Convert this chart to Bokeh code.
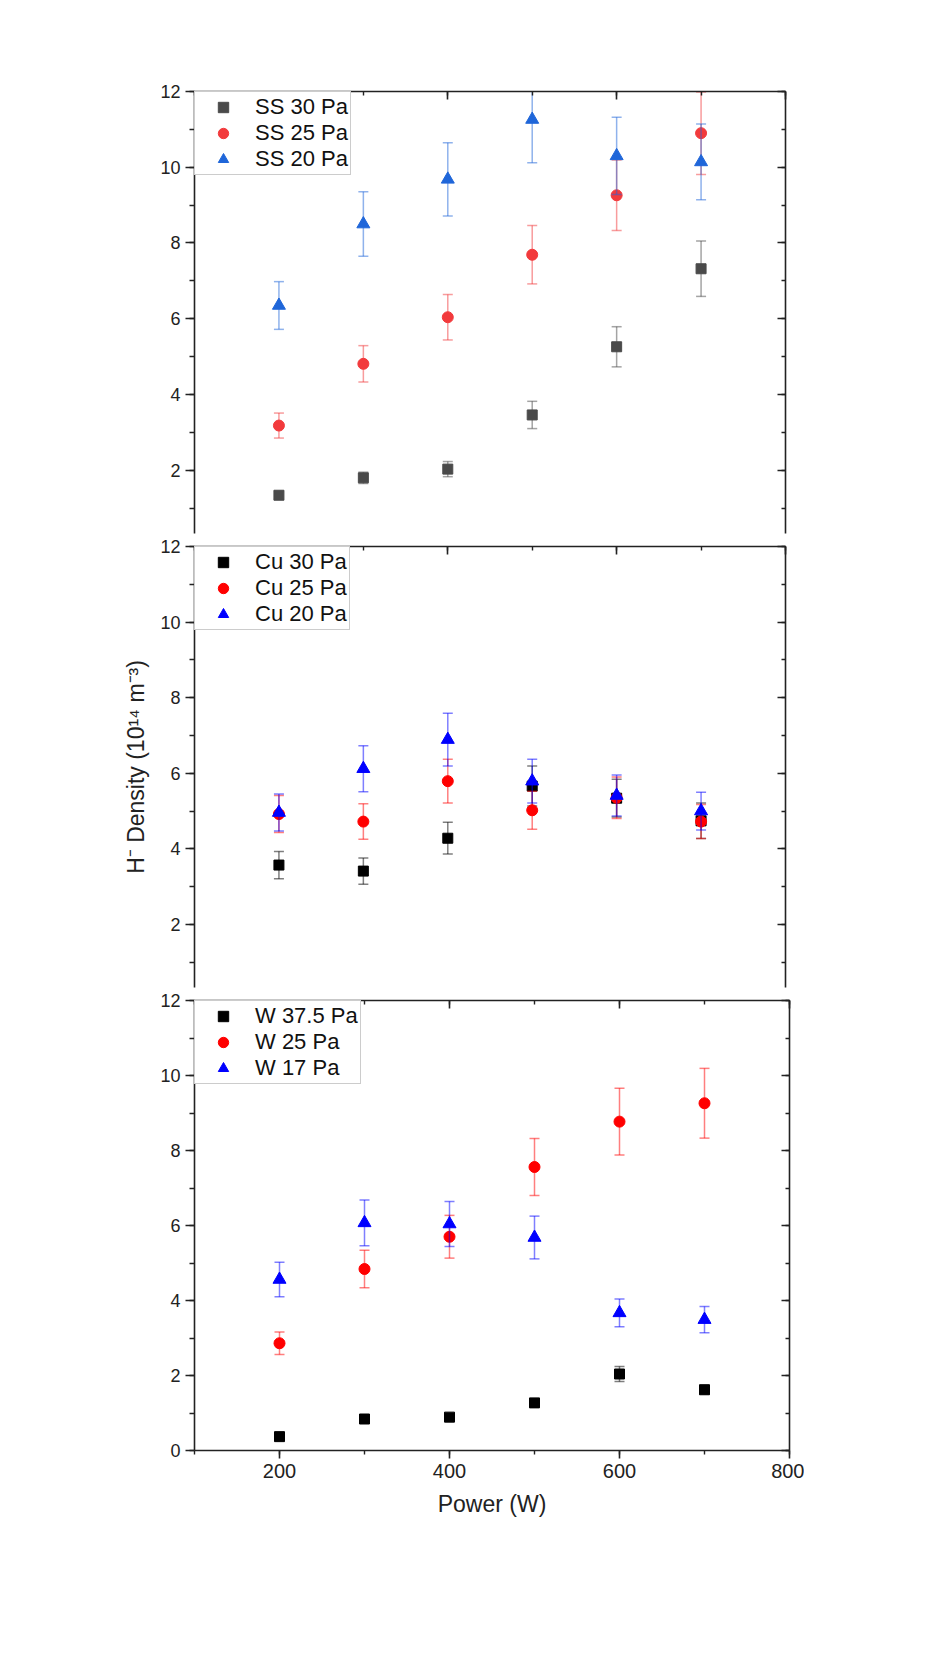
from bokeh.plotting import figure
from bokeh.models import Range1d, LinearAxis, SingleIntervalTicker, ColumnDataSource, Legend, LegendItem
from bokeh.layouts import column
from bokeh.embed import file_html
from bokeh.resources import INLINE

# ---------------- data ----------------
power = [200, 300, 400, 500, 600, 700]

ss_labels = ["SS 30 Pa", "SS 25 Pa", "SS 20 Pa"]
ss30 = [1.34, 1.80, 2.03, 3.46, 5.26, 7.32]
ss30_err = [0.10, 0.15, 0.20, 0.36, 0.53, 0.73]
ss25 = [3.18, 4.81, 6.04, 7.69, 9.26, 10.90]
ss25_err = [0.33, 0.48, 0.60, 0.77, 0.93, 1.09]
ss20 = [6.35, 8.50, 9.68, 11.26, 10.30, 10.14]
ss20_err = [0.63, 0.85, 0.97, 1.14, 1.02, 1.00]

cu_labels = ["Cu 30 Pa", "Cu 25 Pa", "Cu 20 Pa"]
cu30 = [3.57, 3.41, 4.28, 5.66, 5.34, 4.74]
cu30_err = [0.36, 0.35, 0.42, 0.53, 0.50, 0.47]
cu25 = [4.92, 4.72, 5.79, 5.02, 5.35, 4.72]
cu25_err = [0.49, 0.47, 0.58, 0.50, 0.55, 0.45]
cu20 = [4.96, 6.12, 6.89, 5.79, 5.41, 5.00]
cu20_err = [0.49, 0.61, 0.70, 0.58, 0.54, 0.50]

w_labels = ["W 37.5 Pa", "W 25 Pa", "W 17 Pa"]
w375 = [0.37, 0.84, 0.89, 1.27, 2.04, 1.62]
w375_err = [0.05, 0.06, 0.07, 0.08, 0.20, 0.12]
w25 = [2.86, 4.84, 5.70, 7.56, 8.77, 9.26]
w25_err = [0.30, 0.50, 0.57, 0.76, 0.89, 0.93]
w17 = [4.56, 6.07, 6.04, 5.68, 3.67, 3.49]
w17_err = [0.46, 0.61, 0.60, 0.57, 0.37, 0.35]

FONT = "Liberation Sans"
AXC = "#222222"


def style_axis(ax, side):
    ax.axis_line_color = AXC
    ax.axis_line_width = 1.6
    ax.major_tick_line_color = AXC
    ax.minor_tick_line_color = AXC
    ax.major_tick_line_width = 1.6
    ax.minor_tick_line_width = 1.4
    ax.major_label_text_font = FONT
    ax.major_label_text_color = AXC
    if side in ("left", "below"):
        ax.major_tick_out = 9 if side == "left" else 8
        ax.major_tick_in = 0
        ax.minor_tick_out = 5 if side == "left" else 4
        ax.minor_tick_in = 0
        ax.major_label_standoff = 5
        ax.major_label_text_font_size = "18px" if side == "left" else "20px"
    else:
        ax.major_tick_out = 0
        ax.major_tick_in = 8
        ax.minor_tick_out = 0
        ax.minor_tick_in = 4
        ax.major_label_standoff = 0
        ax.major_label_text_font_size = "0px"
        ax.major_label_text_color = None


def make_panel(series, labels, colors, ymin, left, fwidth, fheight, top, bottom,
               show_x=False, ylabel=None):
    p = figure(x_range=Range1d(100, 800), y_range=Range1d(ymin, 12),
               frame_width=fwidth, frame_height=fheight,
               min_border_left=left, min_border_right=20,
               min_border_top=top, min_border_bottom=bottom,
               x_axis_location=None, y_axis_location=None,
               toolbar_location=None, output_backend="svg")
    p.outline_line_color = None
    p.background_fill_color = "white"
    p.border_fill_color = "white"
    p.xgrid.visible = False
    p.ygrid.visible = False

    yl = LinearAxis(ticker=SingleIntervalTicker(interval=2, num_minor_ticks=2))
    style_axis(yl, "left")
    if ylabel:
        yl.axis_label = ylabel
        yl.axis_label_text_font = FONT
        yl.axis_label_text_font_size = "23px"
        yl.axis_label_text_font_style = "normal"
        yl.axis_label_text_color = AXC
        yl.axis_label_standoff = 8
    p.add_layout(yl, "left")

    yr = LinearAxis(ticker=SingleIntervalTicker(interval=2, num_minor_ticks=2))
    style_axis(yr, "right")
    p.add_layout(yr, "right")

    xt = LinearAxis(ticker=SingleIntervalTicker(interval=200, num_minor_ticks=2))
    style_axis(xt, "above")
    p.add_layout(xt, "above")

    if show_x:
        xb = LinearAxis(ticker=SingleIntervalTicker(interval=200, num_minor_ticks=2))
        style_axis(xb, "below")
        xb.axis_label = "Power (W)"
        xb.axis_label_text_font = FONT
        xb.axis_label_text_font_size = "23px"
        xb.axis_label_text_font_style = "normal"
        xb.axis_label_text_color = AXC
        xb.axis_label_standoff = 10
        p.add_layout(xb, "below")

    markers = ["square", "circle", "triangle"]
    sizes = [10, 11, 13]
    items = []
    for (vals, errs), lab, col, mk, sz in zip(series, labels, colors, markers, sizes):
        src = ColumnDataSource(dict(
            x=power, y=vals,
            lo=[v - e for v, e in zip(vals, errs)],
            hi=[v + e for v, e in zip(vals, errs)]))
        p.segment(x0="x", y0="lo", x1="x", y1="hi", source=src,
                  line_color=col, line_alpha=0.5, line_width=1.5)
        p.scatter(x="x", y="lo", source=src, marker="dash", size=10,
                  line_color=col, line_alpha=0.5, line_width=1.5)
        p.scatter(x="x", y="hi", source=src, marker="dash", size=10,
                  line_color=col, line_alpha=0.5, line_width=1.5)
        r = p.scatter(x="x", y="y", source=src, marker=mk, size=sz,
                      fill_color=col, line_color=col, line_width=1)
        items.append(LegendItem(label=lab, renderers=[r]))

    leg = Legend(items=items, location="top_left", margin=0, padding=2,
                 glyph_width=52, glyph_height=26, label_height=26,
                 label_standoff=6, spacing=0,
                 label_text_font=FONT, label_text_font_size="22px",
                 label_text_color="#111111",
                 border_line_color="#9a9a9a", border_line_width=1.2,
                 background_fill_color="white", background_fill_alpha=1)
    p.add_layout(leg, "center")
    return p


p1 = make_panel([(ss30, ss30_err), (ss25, ss25_err), (ss20, ss20_err)], ss_labels,
                ["#4a4a4a", "#f23a3c", "#1f66d9"], 0.33,
                194, 591, 442, 91, 1)
p2 = make_panel([(cu30, cu30_err), (cu25, cu25_err), (cu20, cu20_err)], cu_labels,
                ["#000000", "#ff0000", "#0000ff"], 0.33,
                194, 591, 441, 12, 1, ylabel="H\u207b Density (10\u00b9\u2074 m\u207b\u00b3)")
p3 = make_panel([(w375, w375_err), (w25, w25_err), (w17, w17_err)], w_labels,
                ["#000000", "#ff0000", "#0000ff"], 0.0,
                189, 595, 450, 12, 85, show_x=True)

layout = column(p1, p2, p3, spacing=0)
open("out.html", "w").write(file_html(layout, INLINE))
